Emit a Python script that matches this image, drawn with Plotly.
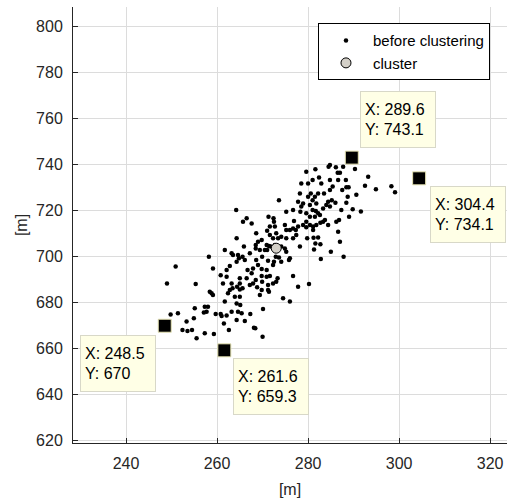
import plotly.graph_objects as go

# Raw positions before clustering [m]
x_before = [
    284.8, 286.1, 287.7, 286.5, 287.0, 279.6, 281.6, 282.4, 284.8, 280.0,
    281.0, 278.5, 286.6, 288.3, 288.4, 288.9, 282.9, 285.4, 284.8, 287.5,
    278.2, 280.6, 280.0, 282.2, 283.5, 281.0, 281.5, 277.8, 278.9, 278.5,
    280.4, 281.8, 284.4, 285.2, 286.0, 288.4, 275.2, 276.7, 278.3, 279.6,
    281.7, 282.2, 281.0, 273.6, 283.3, 284.8, 287.3, 281.5, 282.6, 283.7,
    283.3, 282.7, 286.2, 286.8, 289.0, 280.4, 279.6, 278.9, 280.4, 281.8,
    281.1, 276.9, 277.8, 279.6, 281.1, 274.9, 276.7, 277.3, 277.4, 276.0,
    275.2, 272.7, 271.6, 273.0, 274.1, 275.2, 276.7, 278.2, 279.8, 281.2,
    282.2, 281.6, 281.3, 282.7, 286.6, 287.0, 285.0, 287.8, 282.8, 264.2,
    265.7, 266.5, 267.6, 271.3, 272.4, 272.5, 271.0, 271.6, 272.3, 273.4,
    268.6, 269.8, 269.0, 268.5, 268.5, 269.4, 270.9, 271.0, 270.5, 271.4,
    271.8, 272.7, 274.1, 274.9, 275.2, 276.0, 275.8, 264.3, 265.9, 264.6,
    267.2, 263.5, 265.6, 264.8, 261.7, 263.2, 266.1, 264.3, 262.8, 262.1,
    268.6, 269.9, 271.2, 272.9, 273.6, 274.1, 269.0, 267.9, 266.7, 267.6,
    269.8, 270.9, 272.3, 272.5, 259.1, 260.8, 262.1, 265.0, 266.5, 268.5,
    269.8, 270.9, 271.6, 273.3, 273.0, 272.3, 271.2, 269.9, 261.3, 263.2,
    265.0, 264.4, 263.4, 262.8, 262.4, 265.0, 265.6, 265.0, 263.9, 261.7,
    264.3, 265.1, 267.2, 267.9, 268.8, 269.8, 269.4, 271.2, 271.4, 276.7,
    277.8, 280.2, 274.5, 276.0, 259.1, 258.4, 258.8, 258.0, 257.3, 257.7,
    255.3, 258.2, 250.9, 249.0, 255.1, 254.9, 257.1, 259.7, 260.8, 262.1,
    263.2, 264.6, 265.4, 267.3, 264.3, 266.1, 261.5, 262.6, 268.1, 268.4,
    270.1, 270.0, 253.3, 252.4, 253.5, 254.5, 255.5, 257.3, 259.3, 249.8,
    251.4, 284.5, 288.7, 284.0, 284.4, 261.0, 290.3, 293.2, 292.5, 294.9,
    298.3, 299.1, 290.6, 289.8, 291.6,
]
y_before = [
    739.9, 738.9, 739.1, 736.5, 736.5, 737.0, 738.0, 734.5, 733.4, 731.9,
    733.4, 731.9, 733.4, 733.4, 730.2, 730.2, 731.9, 730.5, 729.0, 729.0,
    727.5, 727.5, 726.1, 727.5, 727.5, 724.6, 726.1, 723.9, 723.2, 721.8,
    722.5, 723.2, 723.9, 724.6, 723.5, 723.5, 719.6, 720.3, 719.6, 718.9,
    719.9, 718.9, 720.3, 724.6, 721.0, 721.8, 720.3, 717.4, 718.1, 716.0,
    715.2, 714.8, 715.2, 716.0, 717.4, 717.4, 715.2, 713.8, 713.8, 713.8,
    713.1, 715.5, 713.1, 712.8, 711.6, 713.8, 712.3, 711.6, 709.4, 711.6,
    711.6, 713.1, 713.1, 710.2, 708.7, 708.0, 708.0, 704.4, 708.0, 708.3,
    708.4, 705.8, 703.2, 705.4, 710.9, 706.5, 702.2, 700.0, 699.0, 720.3,
    715.2, 716.7, 714.5, 717.4, 716.7, 715.2, 711.3, 709.4, 708.0, 708.0,
    710.2, 707.3, 706.5, 705.1, 703.6, 702.9, 705.1, 702.9, 702.9, 704.7,
    704.4, 705.1, 704.4, 703.6, 702.2, 699.3, 698.6, 708.0, 704.4, 700.7,
    701.5, 700.7, 700.0, 699.3, 702.9, 701.5, 698.6, 697.8, 696.0, 694.2,
    698.6, 700.0, 698.3, 700.0, 699.7, 697.8, 696.4, 694.9, 694.2, 692.8,
    694.7, 694.2, 696.4, 697.8, 694.9, 692.0, 691.3, 690.6, 690.6, 689.9,
    691.6, 691.3, 691.6, 690.6, 689.1, 688.4, 687.7, 689.1, 688.4, 688.4,
    688.4, 687.0, 686.3, 685.5, 684.1, 685.8, 686.3, 682.6, 682.6, 680.5,
    679.7, 679.0, 687.7, 688.4, 686.7, 685.5, 683.4, 685.5, 684.8, 691.6,
    687.0, 688.1, 681.9, 680.5, 683.4, 684.8, 684.1, 678.3, 678.3, 676.1,
    688.1, 700.0, 695.7, 688.4, 677.6, 673.2, 675.7, 675.1, 675.1, 674.4,
    676.1, 676.1, 675.4, 675.1, 672.5, 672.0, 671.0, 668.1, 669.1, 668.9,
    677.3, 665.2, 671.8, 668.1, 667.7, 668.1, 664.5, 666.7, 666.4, 674.9,
    675.4, 739.1, 726.1, 722.5, 713.8, 674.2, 738.1, 734.8, 730.9, 729.4,
    730.7, 728.0, 727.0, 720.7, 719.7,
]

# Cluster centre [m]
x_cluster = [273.0]
y_cluster = [703.7]

# Points picked with data tips [m]
x_tips = [289.6, 304.4, 248.5, 261.6]
y_tips = [743.1, 734.1, 670.0, 659.3]
# Data tip box placement: (xanchor, yanchor, xshift, yshift)
tip_place = [
    ("left", "bottom", 8, 10),
    ("left", "top", 11, -8),
    ("right", "top", -9, -9),
    ("left", "top", 9, -8),
]

x_ticks = [240, 260, 280, 300, 320]
y_ticks = [620, 640, 660, 680, 700, 720, 740, 760, 780, 800]

FONT = "Arial, 'Liberation Sans', Helvetica, sans-serif"
AX = "#262626"
GRID = "#dcdcdc"

fig = go.Figure()

fig.add_trace(go.Scatter(
    x=x_before, y=y_before, mode="markers", name="before clustering",
    marker=dict(color="black", size=4.5, line=dict(width=0)),
))
fig.add_trace(go.Scatter(
    x=x_cluster, y=y_cluster, mode="markers", name="cluster",
    marker=dict(color="#d4d0c8", size=10, line=dict(color="black", width=1)),
))
fig.add_trace(go.Scatter(
    x=x_tips, y=y_tips, mode="markers", showlegend=False,
    marker=dict(symbol="square", color="black", size=13,
                line=dict(color="#e6e4b4", width=1)),
))

for xv, yv, (xa, ya, xs, ys) in zip(x_tips, y_tips, tip_place):
    fig.add_annotation(
        x=xv, y=yv, xref="x", yref="y", showarrow=False,
        text=f"X: {xv:g}<br>Y: {yv:g}",
        xanchor=xa, yanchor=ya, xshift=xs, yshift=ys,
        align="left", valign="middle",
        width=66, height=47, borderpad=4,
        bgcolor="#ffffe6", bordercolor="#d8d8c8", borderwidth=1,
        font=dict(family=FONT, size=16, color="black"),
    )

fig.update_xaxes(
    range=[228.35, 323.7], tickvals=x_ticks, ticks="inside", ticklen=5,
    tickcolor=AX, showline=True, linecolor=AX, linewidth=1, mirror=False,
    showgrid=True, gridcolor=GRID, gridwidth=1, zeroline=False,
    tickfont=dict(family=FONT, size=16, color=AX),
    ticklabelstandoff=6,
    title=dict(text="[m]", font=dict(family=FONT, size=16, color=AX), standoff=12),
)
fig.update_yaxes(
    range=[619.0, 808.6], tickvals=y_ticks, ticks="inside", ticklen=5,
    tickcolor=AX, showline=True, linecolor=AX, linewidth=1, mirror=False,
    showgrid=True, gridcolor=GRID, gridwidth=1, zeroline=False,
    tickfont=dict(family=FONT, size=16, color=AX),
    ticklabelstandoff=6,
    title=dict(text="[m]", font=dict(family=FONT, size=16, color=AX), standoff=4),
)

fig.update_layout(
    width=507, height=499,
    margin=dict(l=73, r=0, t=7, b=56),
    paper_bgcolor="white", plot_bgcolor="white",
    font=dict(family=FONT, size=16, color=AX),
    legend=dict(
        x=0.5645, y=0.963, xanchor="left", yanchor="top",
        bgcolor="white", bordercolor="black", borderwidth=1,
        font=dict(family=FONT, size=15, color="black"),
        itemwidth=44, tracegroupgap=0,
    ),
)

fig.write_html("out.html")
